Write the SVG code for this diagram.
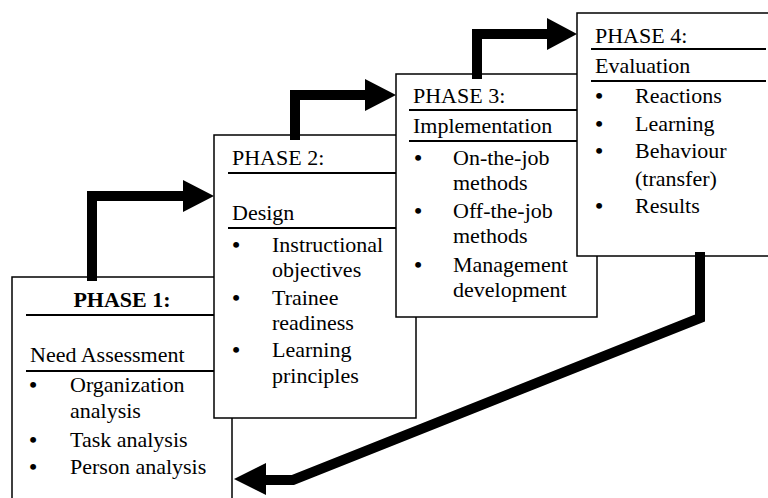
<svg xmlns="http://www.w3.org/2000/svg" width="768" height="498" viewBox="0 0 768 498">
<style>
.box{fill:#fff;stroke:#000;stroke-width:1.5}
.hl{stroke:#000;stroke-width:2}
text{font-family:"Liberation Serif","Times New Roman",serif;font-size:22px;fill:#000}
.b{font-weight:bold}
.bul{text-anchor:middle;font-weight:bold}
.arr{fill:none;stroke:#000;stroke-width:10;stroke-linejoin:miter}
</style>
<rect width="768" height="498" fill="#fff"/>
<g id="phase1">
<rect class="box" x="12" y="277" width="220" height="240"/>
<line class="hl" x1="26" y1="315" x2="230" y2="315"/>
<line class="hl" x1="26" y1="371" x2="230" y2="371"/>
<text class="b" x="122" y="307" text-anchor="middle">PHASE 1:</text>
<text x="30" y="362">Need Assessment</text>
<text class="bul" x="33" y="392">•</text><text x="70" y="392">Organization</text>
<text x="70" y="418">analysis</text>
<text class="bul" x="33" y="447">•</text><text x="70" y="447">Task analysis</text>
<text class="bul" x="33" y="474">•</text><text x="70" y="474">Person analysis</text>
</g>
<g id="phase2">
<rect class="box" x="214" y="135" width="202" height="283"/>
<line class="hl" x1="228" y1="173" x2="414" y2="173"/>
<line class="hl" x1="228" y1="228" x2="414" y2="228"/>
<text x="232" y="165">PHASE 2:</text>
<text x="232" y="220">Design</text>
<text class="bul" x="236" y="252">•</text><text x="272" y="252">Instructional</text>
<text x="272" y="277">objectives</text>
<text class="bul" x="236" y="305">•</text><text x="272" y="305">Trainee</text>
<text x="272" y="330">readiness</text>
<text class="bul" x="236" y="357">•</text><text x="272" y="357">Learning</text>
<text x="272" y="383">principles</text>
</g>
<g id="phase3">
<rect class="box" x="396" y="74" width="201" height="243"/>
<line class="hl" x1="409" y1="110" x2="595" y2="110"/>
<line class="hl" x1="409" y1="141" x2="595" y2="141"/>
<text x="413" y="103">PHASE 3:</text>
<text x="413" y="133">Implementation</text>
<text class="bul" x="418" y="165">•</text><text x="453" y="165">On-the-job</text>
<text x="453" y="190">methods</text>
<text class="bul" x="418" y="218">•</text><text x="453" y="218">Off-the-job</text>
<text x="453" y="243">methods</text>
<text class="bul" x="418" y="272">•</text><text x="453" y="272">Management</text>
<text x="453" y="297">development</text>
</g>
<g id="phase4">
<rect class="box" x="577" y="13" width="220" height="243"/>
<line class="hl" x1="591" y1="49" x2="766" y2="49"/>
<line class="hl" x1="591" y1="81" x2="766" y2="81"/>
<text x="595" y="43">PHASE 4:</text>
<text x="595" y="73">Evaluation</text>
<text class="bul" x="599" y="103">•</text><text x="635" y="103">Reactions</text>
<text class="bul" x="599" y="131">•</text><text x="635" y="131">Learning</text>
<text class="bul" x="599" y="158">•</text><text x="635" y="158">Behaviour</text>
<text x="635" y="186">(transfer)</text>
<text class="bul" x="599" y="213">•</text><text x="635" y="213">Results</text>
</g>
<g id="connectors">
<path class="arr" d="M92,281 V196 H186"/>
<polygon points="183,180 214,196 183,212"/>
<path class="arr" d="M295,140 V95 H368"/>
<polygon points="365,79 396,95 365,111"/>
<path class="arr" d="M477,79 V34 H550"/>
<polygon points="547,18 577,34 547,50"/>
<path class="arr" d="M700,252 V318 L293,480 H262"/>
<polygon points="266,463 234,479 266,495"/>
</g>
</svg>
